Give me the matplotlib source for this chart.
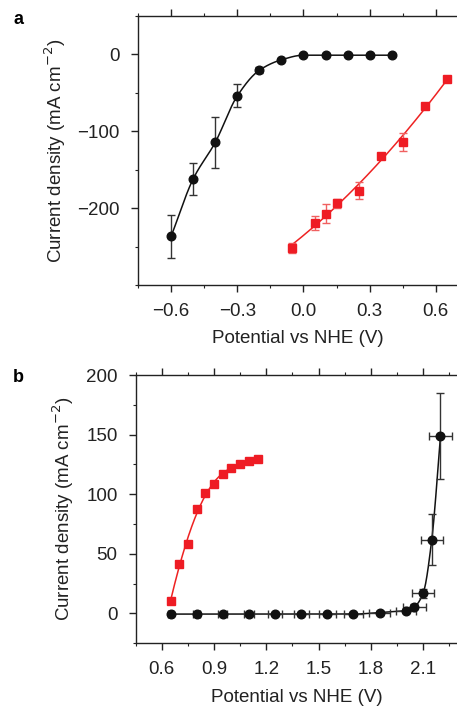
import numpy as np
import matplotlib
matplotlib.use("Agg")
import matplotlib.pyplot as plt
from matplotlib.ticker import MultipleLocator

plt.rcParams['font.family'] = ['Liberation Sans', 'DejaVu Sans']
plt.rcParams['axes.unicode_minus'] = True

# ---- Panel a data ----
a_black_x = [-0.6, -0.5, -0.4, -0.3, -0.2, -0.1, 0.0, 0.1, 0.2, 0.3, 0.4]
a_black_y = [-236.8, -162, -114.5, -54, -20.6, -7, -1, -1, -1, -1, -1]
a_black_err = [28, 21, 33, 15, 4, 1, 0, 0, 0, 0, 0]

a_red_x = [-0.05, 0.05, 0.1, 0.15, 0.25, 0.35, 0.45, 0.55, 0.65]
a_red_y = [-252, -219, -207, -193.6, -177.5, -131.6, -114, -67.4, -32.4]
a_red_err = [7, 9, 12.7, 6, 11, 3, 12, 3, 3]

# ---- Panel b data ----
b_red_x = [0.65, 0.70, 0.75, 0.80, 0.85, 0.90, 0.95, 1.00, 1.05, 1.10, 1.15]
b_red_y = [10.6, 41.4, 57.9, 87.8, 101, 108.2, 116.9, 121.9, 125, 128, 129.7]
b_red_xerr = [0.006, 0.008, 0.010, 0.010, 0.012, 0.012, 0.014, 0.015, 0.016, 0.017, 0.020]

b_black_x = [0.65, 0.80, 0.95, 1.10, 1.25, 1.40, 1.55, 1.70, 1.85, 2.00, 2.05, 2.10, 2.15, 2.20]
b_black_y = [-0.5, -0.5, -0.5, -0.5, -0.5, -0.5, -0.5, -0.5, 0.8, 2.5, 5.6, 16.8, 62, 149]
b_black_yerr = [0, 0, 0, 0, 0, 0, 0, 0, 1, 1.5, 2, 4, 21.7, 36]
b_black_xerr = [0.015, 0.02, 0.027, 0.031, 0.038, 0.043, 0.048, 0.053, 0.058, 0.058, 0.065, 0.065, 0.064, 0.066]


def pchip(x, y, xn):
    x = np.asarray(x, float); y = np.asarray(y, float)
    h = np.diff(x); d = np.diff(y) / h
    n = len(x)
    m = np.zeros(n)
    for k in range(1, n - 1):
        if d[k - 1] * d[k] <= 0:
            m[k] = 0
        else:
            w1 = 2 * h[k] + h[k - 1]; w2 = h[k] + 2 * h[k - 1]
            m[k] = (w1 + w2) / (w1 / d[k - 1] + w2 / d[k])
    m[0] = d[0]; m[-1] = d[-1]
    idx = np.clip(np.searchsorted(x, xn) - 1, 0, n - 2)
    t = (xn - x[idx]) / h[idx]
    h00 = 2 * t**3 - 3 * t**2 + 1; h10 = t**3 - 2 * t**2 + t
    h01 = -2 * t**3 + 3 * t**2; h11 = t**3 - t**2
    return h00 * y[idx] + h10 * h[idx] * m[idx] + h01 * y[idx + 1] + h11 * h[idx] * m[idx + 1]


fig = plt.figure(figsize=(4.57, 7.06), dpi=100)
FS = 13.5
TC = '#222222'

def style(ax):
    for s in ['left', 'bottom', 'top', 'right']:
        ax.spines[s].set_linewidth(1.0)
        ax.spines[s].set_color(TC)
    ax.tick_params(axis='both', which='major', direction='out', length=5, width=1.0,
                   labelsize=FS, colors=TC)
    ax.tick_params(axis='x', which='major', pad=8)
    ax.tick_params(axis='y', which='major', pad=8)
    ax.tick_params(axis='both', which='minor', direction='out', length=2.5, width=0.8, colors=TC)
    ax.tick_params(axis='x', which='both', top=True, labeltop=False)
    ax.tick_params(axis='x', which='major', top=True)

# Panel a
ax1 = fig.add_axes([138/457, 1 - 285/706, 1 - 138/457 + 0.002, (285 - 16)/706])
xs = np.linspace(min(a_black_x), max(a_black_x), 300)
ax1.plot(xs, pchip(a_black_x, a_black_y, xs), color='#111111', lw=1.1, zorder=2)
ax1.errorbar(a_black_x, a_black_y, yerr=a_black_err, fmt='o', color='#111111', ms=6.2,
             ecolor='#333333', elinewidth=1.0, capsize=3, capthick=1.0, zorder=3)
coef = np.polyfit(a_red_x, a_red_y, 2)
xr = np.linspace(min(a_red_x), max(a_red_x), 200)
ax1.plot(xr, np.polyval(coef, xr), color='#ee2222', lw=1.1, zorder=2)
ax1.errorbar(a_red_x, a_red_y, yerr=a_red_err, fmt='s', color='#ee1c24', ms=5.8,
             ecolor='#f06060', elinewidth=1.0, capsize=3, capthick=1.0, zorder=3)
ax1.set_xlim(-0.75, 0.70)
ax1.set_ylim(-300, 50)
ax1.xaxis.set_minor_locator(MultipleLocator(0.15))
ax1.yaxis.set_minor_locator(MultipleLocator(50))
ax1.set_xticks([-0.6, -0.3, 0.0, 0.3, 0.6])
ax1.set_xticklabels(['\u22120.6', '\u22120.3', '0.0', '0.3', '0.6'])
ax1.set_yticks([0, -100, -200])
ax1.set_yticklabels(['0', '\u2212100', '\u2212200'])
style(ax1)
ax1.set_xlabel('Potential vs NHE (V)', fontsize=FS, color=TC, va='center')
ax1.xaxis.set_label_coords(0.5, (285 - 338) / 269)
ax1.set_ylabel('Current density (mA cm$^{\u22122}$)', fontsize=FS, color=TC, va='center')
ax1.yaxis.set_label_coords((55 - 138) / 319, 0.5)
fig.text(13/457, 1 - 20/706, 'a', fontsize=13, fontweight='bold', va='center', ha='left')

# Panel b
ax2 = fig.add_axes([135.7/457, 1 - 643.3/706, 1 - 135.7/457 + 0.002, (643.3 - 375)/706])
coef_b = np.polyfit(b_red_x, b_red_y, 4)
xs = np.linspace(min(b_red_x), max(b_red_x), 300)
ax2.plot(xs, np.polyval(coef_b, xs), color='#ee2222', lw=1.1, zorder=2)
ax2.errorbar(b_red_x, b_red_y, xerr=b_red_xerr, fmt='s', color='#ee1c24', ms=5.8,
             ecolor='#f06060', elinewidth=1.0, capsize=2.5, capthick=1.0, zorder=3)
xs = np.linspace(min(b_black_x), max(b_black_x), 400)
ax2.plot(xs, pchip(b_black_x, b_black_y, xs), color='#111111', lw=1.1, zorder=2)
ax2.errorbar(b_black_x, b_black_y, xerr=b_black_xerr, yerr=b_black_yerr, fmt='o', color='#111111',
             ms=6.2, ecolor='#333333', elinewidth=1.0, capsize=3, capthick=1.0, zorder=3)
ax2.set_xlim(0.45, 2.30)
ax2.set_ylim(-25, 200)
ax2.set_xticks([0.6, 0.9, 1.2, 1.5, 1.8, 2.1])
ax2.set_xticklabels(['0.6', '0.9', '1.2', '1.5', '1.8', '2.1'])
ax2.xaxis.set_minor_locator(MultipleLocator(0.15))
ax2.yaxis.set_major_locator(MultipleLocator(50))
ax2.yaxis.set_minor_locator(MultipleLocator(25))
style(ax2)
ax2.set_xlabel('Potential vs NHE (V)', fontsize=FS, color=TC, va='center')
ax2.xaxis.set_label_coords(0.5, (643.3 - 698) / 268.3)
ax2.set_ylabel('Current density (mA cm$^{\u22122}$)', fontsize=FS, color=TC, va='center')
ax2.yaxis.set_label_coords((63 - 135.7) / 321.3, 0.5)
fig.text(13/457, 1 - 378/706, 'b', fontsize=13, fontweight='bold', va='center', ha='left')

fig.savefig('out.png', dpi=100)
